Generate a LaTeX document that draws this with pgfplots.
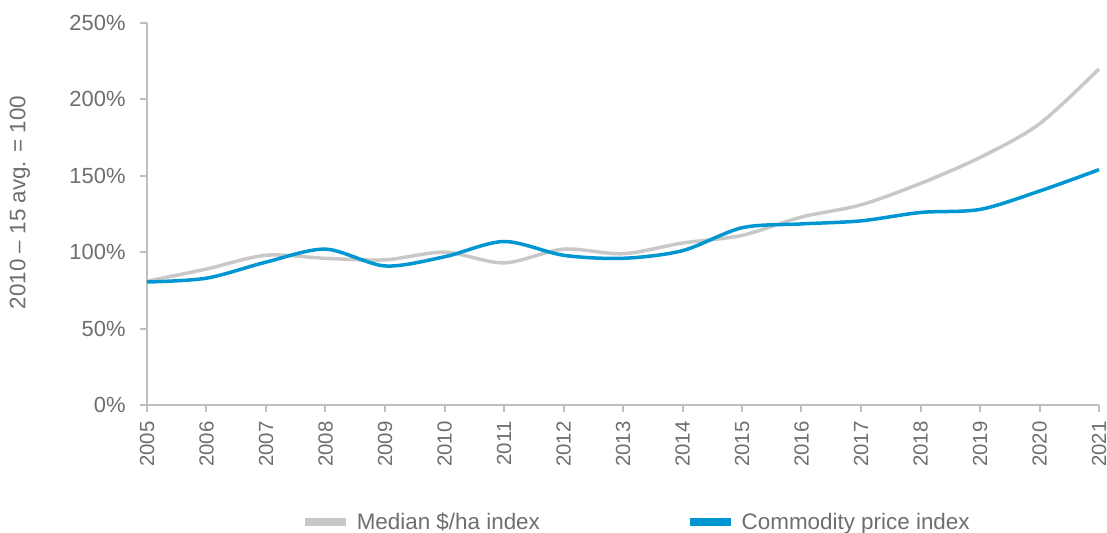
\documentclass[border=0pt]{standalone}
\usepackage{pgfplots}
\pgfplotsset{compat=1.18}
\usepackage{fontspec}
\setmainfont{Liberation Sans}

\definecolor{landgray}{RGB}{200,200,200}
\definecolor{commblue}{RGB}{0,150,210}
\definecolor{axisgray}{RGB}{191,191,191}
\definecolor{textgray}{RGB}{110,110,110}

\pgfplotstableread{
year median commodity
2005 81  80.5
2006 89  83
2007 98  93.5
2008 96  102
2009 95  91
2010 100 97
2011 93  107
2012 102 98
2013 99  96
2014 106 101
2015 111 116
2016 123 118.5
2017 131 120.5
2018 145 126
2019 162 128
2020 184 140
2021 220 154
}\landdata

\begin{document}
\begin{tikzpicture}
\useasboundingbox (-147bp,-128bp) rectangle (960bp,405bp);
\begin{axis}[
    at={(0,0)}, anchor=origin,
    scale only axis,
    width=952bp, height=382bp,
    xmin=2005, xmax=2021,
    ymin=0, ymax=250,
    axis lines=left,
    axis line style={-, draw=axisgray, line width=2bp},
    xtick={2005,2006,...,2021},
    ytick={0,50,...,250},
    tick style={draw=axisgray, line width=2bp},
    tick align=outside,
    major tick length=7bp,
    x tick label style={rotate=90, anchor=east, font=\fontsize{20.5}{24}\selectfont, text=textgray, xshift=-6bp},
    y tick label style={font=\fontsize{22}{26}\selectfont, text=textgray, xshift=-11bp},
    xticklabel={\pgfmathprintnumber[1000 sep={}]{\tick}},
    yticklabel={\pgfmathprintnumber{\tick}\%},
    /pgf/number format/assume math mode=true,
    ylabel={2010 -- 15 avg. = 100},
    ylabel style={at={(axis description cs:-0.1334,0.53)}, anchor=center, font=\fontsize{22.5}{26}\selectfont, text=textgray},
    legend style={at={(axis description cs:0.514,-0.306)}, anchor=center, draw=none, fill=none,
        legend columns=2, font=\fontsize{22.5}{26}\selectfont, text=textgray,
        /tikz/every even column/.append style={column sep=144bp}},
    legend image code/.code={\draw[#1, line width=7.5bp] (0bp,0bp) -- (41bp,0bp);
        \path[draw=none] (0bp,0bp) -- (50bp,0bp);},
    clip=false,
]
\addplot[landgray, line width=3.5bp, smooth, tension=0.5] table[x=year, y=median] {\landdata};
\addplot[commblue, line width=3.5bp, smooth, tension=0.5] table[x=year, y=commodity] {\landdata};
\legend{Median \$/ha index, Commodity price index}
\end{axis}
\end{tikzpicture}
\end{document}
